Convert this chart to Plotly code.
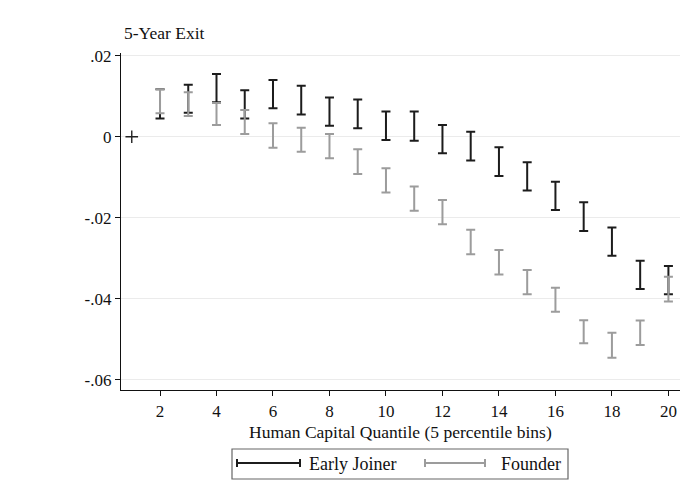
import plotly.graph_objects as go

# ---- data ----
quantiles = list(range(2, 21))
early_hi = [0.0117, 0.0128, 0.0155, 0.0115, 0.0140, 0.0126, 0.0097, 0.0092, 0.0062, 0.0062,
            0.0029, 0.0012, -0.0026, -0.0063, -0.0111, -0.0162, -0.0224, -0.0306, -0.0319]
early_lo = [0.0045, 0.0059, 0.0085, 0.0045, 0.0070, 0.0055, 0.0027, 0.0021, -0.0008, -0.0010,
            -0.0041, -0.0059, -0.0097, -0.0133, -0.0181, -0.0233, -0.0294, -0.0376, -0.0389]
founder_hi = [0.0117, 0.0110, 0.0083, 0.0066, 0.0033, 0.0022, 0.0007, -0.0031, -0.0078, -0.0123,
              -0.0156, -0.0230, -0.0280, -0.0329, -0.0373, -0.0453, -0.0484, -0.0454, -0.0346]
founder_lo = [0.0058, 0.0051, 0.0029, 0.0007, -0.0027, -0.0037, -0.0053, -0.0092, -0.0138, -0.0183,
              -0.0216, -0.0290, -0.0340, -0.0389, -0.0432, -0.0510, -0.0546, -0.0514, -0.0407]
base_x = [1]
base_y = [0]
ytick_vals = [0.02, 0, -0.02, -0.04, -0.06]
ytick_text = [".02", "0", "-.02", "-.04", "-.06"]
xtick_vals = list(range(2, 21, 2))

EARLY_COLOR = "#1c1c1c"
FOUNDER_COLOR = "#9c9c9c"
FONT = "Liberation Serif"

W, H = 684, 499
L, R, T, B = 121, 4, 53, 109
PW, PH = W - L - R, H - T - B


def px(xp):
    return (xp - L) / PW


def py(yp):
    return (H - B - yp) / PH


def rcap(x, hi, lo, color, name):
    mid = [(a + b) / 2 for a, b in zip(hi, lo)]
    plus = [a - m for a, m in zip(hi, mid)]
    minus = [m - b for m, b in zip(mid, lo)]
    return go.Scatter(
        x=x, y=mid, mode="markers", name=name, showlegend=False,
        marker=dict(size=1, color="rgba(0,0,0,0)"),
        error_y=dict(type="data", symmetric=False, array=plus, arrayminus=minus,
                     color=color, thickness=2, width=4.5),
        hoverinfo="skip",
    )


fig = go.Figure()
fig.add_trace(rcap(quantiles, early_hi, early_lo, EARLY_COLOR, "Early Joiner"))
fig.add_trace(rcap(quantiles, founder_hi, founder_lo, FOUNDER_COLOR, "Founder"))
fig.add_trace(go.Scatter(x=base_x, y=base_y, mode="markers", showlegend=False,
                         marker=dict(symbol="cross-thin", size=9,
                                     line=dict(color="#222222", width=1.4))))

fig.update_layout(
    width=W, height=H,
    margin=dict(l=L, r=R, t=T, b=B, pad=0),
    paper_bgcolor="white", plot_bgcolor="white",
    font=dict(family=FONT, size=17, color="#111111"),
    showlegend=False,
    xaxis=dict(range=[0.619, 20.41], tickmode="array", tickvals=xtick_vals,
               ticks="outside", ticklen=5, tickwidth=1, tickcolor="#111111",
               showline=True, linecolor="#111111", linewidth=1.3,
               showgrid=False, zeroline=False,
               tickfont=dict(family=FONT, size=17)),
    yaxis=dict(range=[-0.06254, 0.02067], tickmode="array", tickvals=ytick_vals,
               ticktext=ytick_text,
               ticks="outside", ticklen=5, tickwidth=1, tickcolor="#111111",
               showline=True, linecolor="#111111", linewidth=1.3,
               showgrid=True, gridcolor="#ebebeb", gridwidth=1, zeroline=False,
               tickfont=dict(family=FONT, size=17)),
)

annotations = [
    dict(text="5-Year Exit", x=px(122), y=py(33), xref="paper", yref="paper",
         xanchor="left", yanchor="middle", showarrow=False,
         font=dict(family=FONT, size=17.5, color="#111111")),
    dict(text="Human Capital Quantile (5 percentile bins)", x=px(400), y=py(432),
         xref="paper", yref="paper", xanchor="center", yanchor="middle",
         showarrow=False, font=dict(family=FONT, size=17.5, color="#111111")),
    dict(text="Early Joiner", x=px(307), y=py(463.5), xref="paper", yref="paper",
         xanchor="left", yanchor="middle", showarrow=False,
         font=dict(family=FONT, size=18, color="#111111")),
    dict(text="Founder", x=px(499), y=py(463.5), xref="paper", yref="paper",
         xanchor="left", yanchor="middle", showarrow=False,
         font=dict(family=FONT, size=18, color="#111111")),
]
fig.update_layout(annotations=annotations)

shapes = [
    dict(type="rect", xref="paper", yref="paper", x0=px(232), x1=px(568),
         y0=py(449), y1=py(479), line=dict(color="#666666", width=1.2),
         fillcolor="rgba(0,0,0,0)"),
]
for (x0, x1, col) in [(237, 300, EARLY_COLOR), (425, 485, FOUNDER_COLOR)]:
    shapes.append(dict(type="line", xref="paper", yref="paper", x0=px(x0), x1=px(x1),
                       y0=py(463), y1=py(463), line=dict(color=col, width=2)))
    for xc in (x0, x1):
        shapes.append(dict(type="line", xref="paper", yref="paper", x0=px(xc), x1=px(xc),
                           y0=py(459), y1=py(467), line=dict(color=col, width=2)))
fig.update_layout(shapes=shapes)

fig.write_html("out.html")
